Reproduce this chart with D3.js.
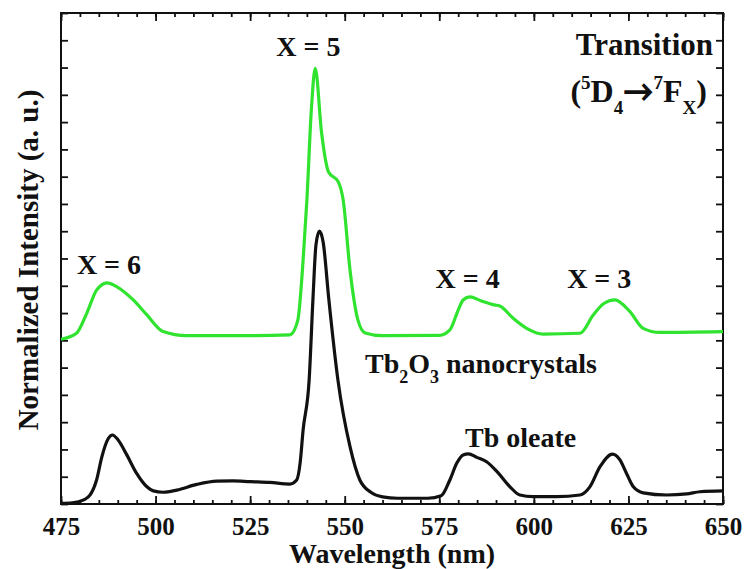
<!DOCTYPE html>
<html>
<head>
<meta charset="utf-8">
<script src="https://cdn.jsdelivr.net/npm/d3@7"></script>
<style>
  html, body { margin: 0; padding: 0; background: #fff; }
  svg { display: block; }
</style>
</head>
<body>
<svg id="chart" width="747" height="569"></svg>
<script>
// Emission spectra, normalized intensity vs wavelength (nm)
const oleateWavelength = [475, 478, 481, 482.7, 484.4, 485.8, 487.5, 488.6, 490.1, 492.4, 495, 497.7, 499.4, 502, 505.6, 510.9, 516.2, 520.5, 525, 530.2, 535.5, 537.3, 538.2, 539, 540.6, 541.6, 542.4, 543.3, 544.3, 545.8, 548.2, 551.4, 554, 557, 560, 564, 572, 575.5, 577.8, 579.6, 581.3, 582.7, 584.9, 587.5, 590.5, 593.7, 596.3, 599.8, 606, 612.2, 614.8, 617.5, 620.8, 622.8, 624.5, 626.3, 628.9, 635.1, 640.4, 643.9, 650];
const oleateIntensity = [0.002, 0.004, 0.015, 0.033, 0.088, 0.173, 0.24, 0.253, 0.235, 0.18, 0.112, 0.063, 0.048, 0.043, 0.051, 0.072, 0.084, 0.085, 0.082, 0.079, 0.073, 0.088, 0.149, 0.271, 0.455, 0.75, 0.95, 1.0, 0.96, 0.75, 0.455, 0.21, 0.088, 0.042, 0.026, 0.021, 0.021, 0.03, 0.088, 0.149, 0.18, 0.184, 0.171, 0.155, 0.115, 0.063, 0.033, 0.027, 0.027, 0.033, 0.063, 0.137, 0.183, 0.161, 0.112, 0.063, 0.041, 0.033, 0.037, 0.045, 0.048];

const nanoWavelength = [475, 479.1, 481.8, 484.4, 487.2, 489.7, 494.1, 497.7, 502, 508.2, 525, 535.5, 537.6, 539, 540, 541.2, 542.2, 543.9, 545.7, 548.3, 549.6, 551.4, 553.5, 555.4, 560, 575, 577.8, 580, 581.3, 583.1, 586, 589.5, 591, 594.6, 598.1, 602.5, 612.2, 615.7, 618.5, 621.4, 625.4, 628.9, 633.3, 650];
const nanoIntensity = [0.004, 0.026, 0.099, 0.184, 0.211, 0.197, 0.148, 0.093, 0.032, 0.017, 0.017, 0.02, 0.074, 0.294, 0.514, 0.85, 0.997, 0.759, 0.618, 0.581, 0.514, 0.258, 0.074, 0.027, 0.017, 0.018, 0.038, 0.111, 0.148, 0.159, 0.145, 0.13, 0.126, 0.08, 0.044, 0.023, 0.026, 0.093, 0.135, 0.148, 0.105, 0.044, 0.029, 0.032];
const nanoOffset = 0.6;   // vertical stacking offset of the nanocrystal trace

const xTickLabels = [475, 500, 525, 550, 575, 600, 625, 650];

const transitionLabels = [
  { text: "X = 6", wl: 479.2, y: 0.845 },
  { text: "X = 5", wl: 531.9, y: 1.643 },
  { text: "X = 4", wl: 574.0, y: 0.792 },
  { text: "X = 3", wl: 608.8, y: 0.792 }
];

const FONT = "Liberation Serif";
const INK = "#111";

const svg = d3.select("#chart");
const margin = { left: 61, right: 24, top: 13, bottom: 65 };
const W = 747, H = 569;

const x = d3.scaleLinear().domain([475, 650]).range([margin.left, W - margin.right]);
const y = d3.scaleLinear().domain([0, 1.8]).range([H - margin.bottom, margin.top]);

const minorX = d3.range(0, 36).map(i => 475 + i * 5);
const yTicks = d3.range(0, 19).map(i => i / 10);

function styleAxis(g) {
  g.attr("font-family", FONT).attr("font-weight", "bold");
  g.select(".domain").remove();
  g.selectAll("line").attr("stroke", INK).attr("stroke-width", 1.8);
}

// bottom axis: minor and major inward ticks, with labels
svg.append("g").attr("transform", `translate(0,${y(0)})`)
  .call(d3.axisBottom(x).tickValues(minorX).tickSize(-4).tickFormat(""))
  .call(styleAxis);
svg.append("g").attr("transform", `translate(0,${y(0)})`)
  .call(d3.axisBottom(x).tickValues(xTickLabels).tickSize(-8).tickPadding(13).tickFormat(d3.format("d")))
  .call(styleAxis)
  .call(g => g.selectAll("text").attr("font-size", 25).attr("fill", INK));

// top axis
svg.append("g").attr("transform", `translate(0,${y(1.8)})`)
  .call(d3.axisTop(x).tickValues(minorX).tickSize(-4).tickFormat(""))
  .call(styleAxis);
svg.append("g").attr("transform", `translate(0,${y(1.8)})`)
  .call(d3.axisTop(x).tickValues(xTickLabels).tickSize(-8).tickFormat(""))
  .call(styleAxis);

// left and right axes
svg.append("g").attr("transform", `translate(${x(475)},0)`)
  .call(d3.axisLeft(y).tickValues(yTicks).tickSize(-7).tickFormat(""))
  .call(styleAxis);
svg.append("g").attr("transform", `translate(${x(650)},0)`)
  .call(d3.axisRight(y).tickValues(yTicks).tickSize(-7).tickFormat(""))
  .call(styleAxis);

// frame
svg.append("rect")
  .attr("x", x(475)).attr("y", y(1.8))
  .attr("width", x(650) - x(475)).attr("height", y(0) - y(1.8))
  .attr("fill", "none").attr("stroke", INK).attr("stroke-width", 2);

// spectra
const line = d3.line().curve(d3.curveMonotoneX);

const oleatePts = oleateWavelength.map((w, i) => [x(w), y(oleateIntensity[i])]);
const nanoPts = nanoWavelength.map((w, i) => [x(w), y(nanoIntensity[i] + nanoOffset)]);

svg.append("path").attr("d", line(nanoPts))
  .attr("fill", "none").attr("stroke", "#2fe32f").attr("stroke-width", 3.2)
  .attr("stroke-linejoin", "round");
svg.append("path").attr("d", line(oleatePts))
  .attr("fill", "none").attr("stroke", INK).attr("stroke-width", 3.2)
  .attr("stroke-linejoin", "round");

const labels = svg.append("g")
  .attr("font-family", FONT).attr("font-weight", "bold").attr("fill", INK);

// transition labels
labels.selectAll("text.tr").data(transitionLabels).join("text")
  .attr("class", "tr")
  .attr("x", d => x(d.wl)).attr("y", d => y(d.y))
  .attr("font-size", 28)
  .text(d => d.text);

// series labels
const nano = labels.append("text").attr("x", 365).attr("y", 373).attr("font-size", 28);
nano.append("tspan").text("Tb");
nano.append("tspan").attr("dy", 10).attr("font-size", 18).text("2");
nano.append("tspan").attr("dy", -10).text("O");
nano.append("tspan").attr("dy", 10).attr("font-size", 18).text("3");
nano.append("tspan").attr("dy", -10).text(" nanocrystals");

labels.append("text").attr("x", 465).attr("y", 447).attr("font-size", 28).text("Tb oleate");

// transition legend, top right
labels.append("text").attr("x", 713).attr("y", 55).attr("text-anchor", "end")
  .attr("font-size", 31).text("Transition");
const tr = labels.append("text").attr("x", 707).attr("y", 102).attr("text-anchor", "end").attr("font-size", 32);
tr.append("tspan").text("(");
tr.append("tspan").attr("dy", -13).attr("font-size", 19).text("5");
tr.append("tspan").attr("dy", 13).text("D");
tr.append("tspan").attr("dy", 12).attr("font-size", 19).text("4");
tr.append("tspan").attr("dy", -12).attr("font-family", "FreeSerif").attr("font-size", 38).text("\u2192");
tr.append("tspan").attr("dy", -13).attr("font-size", 19).text("7");
tr.append("tspan").attr("dy", 13).text("F");
tr.append("tspan").attr("dy", 12).attr("font-size", 19).text("X");
tr.append("tspan").attr("dy", -12).text(")");

// axis titles
labels.append("text").attr("x", (x(475) + x(650)) / 2).attr("y", 563)
  .attr("text-anchor", "middle").attr("font-size", 28).text("Wavelength (nm)");
labels.append("text")
  .attr("transform", `translate(38,${(88 + 432) / 2}) rotate(-90)`)
  .attr("text-anchor", "middle").attr("font-size", 29).text("Normalized Intensity (a. u.)");
</script>
</body>
</html>
